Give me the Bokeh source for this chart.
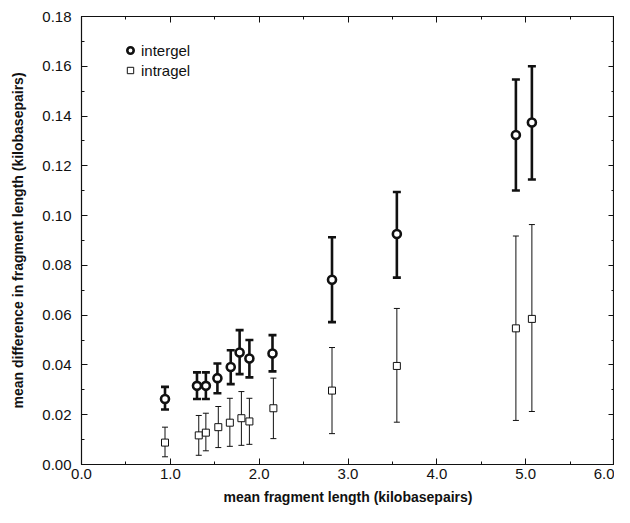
from bokeh.plotting import figure
from bokeh.models import (ColumnDataSource, Whisker, TeeHead, LinearAxis, Range1d,
                          SingleIntervalTicker, NumeralTickFormatter, Legend, LegendItem)
from bokeh.embed import file_html
from bokeh.resources import INLINE

# intergel
inter_x = [0.94, 1.30, 1.40, 1.53, 1.68, 1.78, 1.89, 2.15, 2.82, 3.55, 4.89, 5.07]
inter_y = [0.0263, 0.0316, 0.0316, 0.0347, 0.0392, 0.0450, 0.0426, 0.0446, 0.0742, 0.0926, 0.1324, 0.1374]
inter_lo = [0.0221, 0.0263, 0.0263, 0.0286, 0.0323, 0.0363, 0.0350, 0.0374, 0.0572, 0.0751, 0.1101, 0.1145]
inter_hi = [0.0312, 0.0370, 0.0370, 0.0406, 0.0459, 0.0540, 0.0500, 0.0520, 0.0913, 0.1095, 0.1547, 0.1600]

# intragel
intra_x = [0.94, 1.32, 1.40, 1.54, 1.67, 1.80, 1.89, 2.16, 2.82, 3.55, 4.89, 5.07]
intra_y = [0.0088, 0.0117, 0.0128, 0.0150, 0.0168, 0.0186, 0.0173, 0.0226, 0.0297, 0.0396, 0.0547, 0.0585]
intra_lo = [0.0031, 0.0037, 0.0055, 0.0068, 0.0073, 0.0077, 0.0081, 0.0104, 0.0124, 0.0170, 0.0177, 0.0213]
intra_hi = [0.0150, 0.0197, 0.0206, 0.0233, 0.0266, 0.0293, 0.0266, 0.0347, 0.0470, 0.0627, 0.0918, 0.0964]

FONT = "Liberation Sans"
INK = "#111111"

p = figure(width=614, height=507, output_backend="svg", toolbar_location=None,
           x_range=Range1d(0, 6), y_range=Range1d(0, 0.18),
           min_border_left=81, min_border_top=16, min_border_right=0, min_border_bottom=40,
           background_fill_color="white", border_fill_color="white")
p.grid.visible = False
p.outline_line_color = INK
p.outline_line_width = 1.2

src_inter = ColumnDataSource(dict(x=inter_x, y=inter_y, lo=inter_lo, hi=inter_hi))
src_intra = ColumnDataSource(dict(x=intra_x, y=intra_y, lo=intra_lo, hi=intra_hi))

w1 = Whisker(source=src_inter, base="x", lower="lo", upper="hi", line_color=INK, line_width=2.6,
             upper_head=TeeHead(size=8, line_width=2.6, line_color=INK),
             lower_head=TeeHead(size=8, line_width=2.6, line_color=INK))
w2 = Whisker(source=src_intra, base="x", lower="lo", upper="hi", line_color=INK, line_width=1.0,
             upper_head=TeeHead(size=6, line_width=1.0, line_color=INK),
             lower_head=TeeHead(size=6, line_width=1.0, line_color=INK))
p.add_layout(w1)
p.add_layout(w2)

r1 = p.scatter("x", "y", source=src_inter, marker="circle", size=8, line_width=2.6,
               line_color=INK, fill_color="white")
r2 = p.scatter("x", "y", source=src_intra, marker="square", size=7, line_width=1.0,
               line_color=INK, fill_color="white")

xt = SingleIntervalTicker(interval=1, num_minor_ticks=2)
yt = SingleIntervalTicker(interval=0.02, num_minor_ticks=2)

def style(ax, labels=True):
    ax.major_tick_in = 6
    ax.major_tick_out = 0
    ax.minor_tick_in = 3
    ax.minor_tick_out = 0
    ax.axis_line_color = INK
    ax.major_tick_line_color = INK
    ax.minor_tick_line_color = INK
    ax.major_label_text_font = FONT
    ax.major_label_text_font_size = "15px"
    ax.major_label_text_color = INK
    ax.axis_label_text_font = FONT
    ax.axis_label_text_font_style = "bold"
    ax.axis_label_text_font_size = "14px"
    ax.axis_label_text_color = INK
    if not labels:
        ax.major_label_text_font_size = "0px"
        ax.major_label_text_alpha = 0

p.xaxis.ticker = xt
p.yaxis.ticker = yt
p.xaxis.formatter = NumeralTickFormatter(format="0.0")
p.yaxis.formatter = NumeralTickFormatter(format="0.00")
for ax in p.xaxis + p.yaxis:
    style(ax)
p.xaxis.axis_label = "mean fragment length (kilobasepairs)"
p.yaxis.axis_label = "mean difference in fragment length (kilobasepairs)"
p.xaxis.major_label_standoff = 4
p.yaxis.major_label_standoff = 10
p.xaxis.axis_label_standoff = 7
p.yaxis.axis_label_standoff = 13

ax_r = LinearAxis(ticker=SingleIntervalTicker(interval=0.02, num_minor_ticks=2), major_label_standoff=0)
ax_t = LinearAxis(ticker=SingleIntervalTicker(interval=1, num_minor_ticks=2), major_label_standoff=0)
style(ax_r, labels=False)
style(ax_t, labels=False)
p.add_layout(ax_r, "right")
p.add_layout(ax_t, "above")

legend = Legend(items=[LegendItem(label="intergel", renderers=[r1]),
                       LegendItem(label="intragel", renderers=[r2])],
                location=(41, 384), border_line_color=None, background_fill_alpha=0,
                padding=5, spacing=0, glyph_width=16, glyph_height=20, label_height=20,
                label_standoff=3, label_text_font=FONT, label_text_font_size="15px",
                label_text_color=INK, margin=0)
p.add_layout(legend, "center")

open("out.html", "w").write(file_html(p, INLINE))
